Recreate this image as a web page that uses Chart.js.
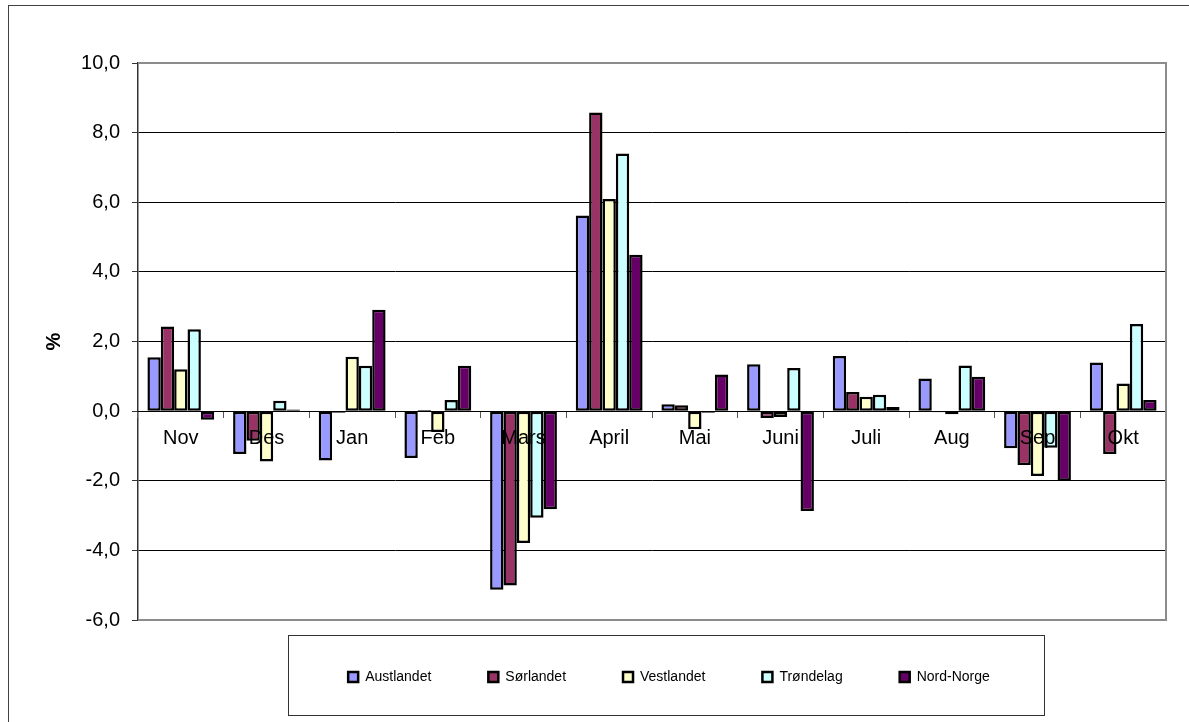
<!DOCTYPE html>
<html>
<head>
<meta charset="utf-8">
<title>Endring per region</title>
<script src="https://cdn.jsdelivr.net/npm/chart.js@4.4.1/dist/chart.umd.min.js"></script>
<style>
    html, body { margin: 0; padding: 0; background: #ffffff; }
    #wrap { width: 1189px; height: 722px; }
</style>
</head>
<body>
<div id="wrap"><canvas id="regionChart" width="1189" height="722"></canvas></div>
<script>
// Months and percent change per region
const months = ['Nov', 'Des', 'Jan', 'Feb', 'Mars', 'April', 'Mai', 'Juni', 'Juli', 'Aug', 'Sep', 'Okt'];
const regions = ['Austlandet', 'Sørlandet', 'Vestlandet', 'Trøndelag', 'Nord-Norge'];

const austlandet = [1.55, -1.23, -1.42, -1.35, -5.13, 5.62, 0.20, 1.35, 1.58, 0.94, -1.07, 1.40];
const sorlandet  = [2.43, -0.85, -0.05, 0.03, -5.01, 8.58, 0.17, -0.20, 0.55, -0.03, -1.55, -1.23];
const vestlandet = [1.20, -1.45, 1.56, -0.60, -3.79, 6.09, -0.52, -0.17, 0.41, -0.09, -1.86, 0.79];
const trondelag  = [2.35, 0.30, 1.30, 0.32, -3.06, 7.40, -0.05, 1.24, 0.47, 1.31, -1.05, 2.50];
const nordNorge  = [-0.25, 0.05, 2.91, 1.30, -2.82, 4.49, 1.05, -2.87, 0.12, 0.99, -2.00, 0.32];

const yTicks = [-6, -4, -2, 0, 2, 4, 6, 8, 10];

const seriesValues = [austlandet, sorlandet, vestlandet, trondelag, nordNorge];
const seriesColors = ['#9999ff', '#993366', '#ffffcc', '#ccffff', '#660066'];

const FONT = '"Liberation Sans", Arial, sans-serif';

// legend is sized by hand so the plot area ends where the reference has it
const legendHeight = {
    id: 'legendHeight',
    beforeInit(chart) {
        const lg = chart.legend;
        if (!lg) return;
        const fit = lg.fit;
        lg.fit = function () {
            fit.call(this);
            this.height = 102;
        };
    },
    afterLayout(chart) {
        // the legend row sits a bit right of the plot centre and a bit higher
        const lg = chart.legend;
        if (!lg) return;
        lg.left += 17;
        lg.right += 17;
        lg.top -= 7;
        lg.bottom -= 7;
    }
};

// frames: outer chart border, plot area border and the box round the legend
const frames = {
    id: 'frames',
    beforeDraw(chart) {
        const ctx = chart.ctx;
        ctx.save();
        ctx.fillStyle = '#ffffff';
        ctx.fillRect(0, 0, chart.width, chart.height);
        ctx.strokeStyle = '#404040';
        ctx.lineWidth = 1;
        ctx.strokeRect(8.5, 5.5, chart.width + 20, chart.height + 20);
        ctx.restore();
    },
    afterDraw(chart) {
        const ctx = chart.ctx;
        const a = chart.chartArea;
        ctx.save();
        ctx.strokeStyle = '#8c8c8c';
        ctx.lineWidth = 2;
        ctx.beginPath();
        ctx.moveTo(a.left, a.top);
        ctx.lineTo(a.right, a.top);
        ctx.lineTo(a.right, a.bottom);
        ctx.lineTo(a.left, a.bottom);
        ctx.stroke();

        const boxes = chart.legend.legendHitBoxes;
        if (boxes && boxes.length) {
            const first = boxes[0];
            const last = boxes[boxes.length - 1];
            const x0 = Math.round(first.left - 60) + 0.5;
            const x1 = Math.round(last.left + last.width + 54) + 0.5;
            const y0 = Math.round(a.bottom + 15) + 0.5;
            const y1 = chart.height - 6.5;
            ctx.strokeStyle = '#333333';
            ctx.lineWidth = 1;
            ctx.strokeRect(x0, y0, x1 - x0, y1 - y0);
        }
        ctx.restore();
    }
};

const ctx = document.getElementById('regionChart');
new Chart(ctx, {
    type: 'bar',
    data: {
        labels: months,
        datasets: regions.map(function (name, i) {
            return {
                label: name,
                data: seriesValues[i],
                backgroundColor: seriesColors[i],
                borderColor: '#000000',
                borderWidth: 2.5,
                borderSkipped: false,
                categoryPercentage: 0.78,
                barPercentage: 1.0
            };
        })
    },
    options: {
        responsive: false,
        animation: false,
        layout: {
            padding: { left: 8, right: 23, top: 63, bottom: 0 }
        },
        plugins: {
            legend: {
                position: 'bottom',
                fullSize: false,
                labels: {
                    boxWidth: 10,
                    boxHeight: 10,
                    padding: 57,
                    color: '#000000',
                    font: { family: FONT, size: 14 }
                }
            },
            tooltip: { enabled: false }
        },
        scales: {
            x: {
                position: { y: 0 },
                grid: {
                    z: 1,
                    drawOnChartArea: false,
                    drawTicks: true,
                    tickLength: 6,
                    tickColor: '#555555',
                    offset: true
                },
                border: { display: true, color: '#000000', width: 1, z: 1 },
                ticks: {
                    z: 1,
                    color: '#000000',
                    padding: 9,
                    maxRotation: 0,
                    font: { family: FONT, size: 20 }
                }
            },
            y: {
                min: -6,
                max: 10,
                afterFit(scale) { scale.width = 130; },
                afterBuildTicks(scale) {
                    scale.ticks = yTicks.map(function (v) { return { value: v }; });
                },
                grid: {
                    color: '#000000',
                    lineWidth: 1,
                    tickLength: 6,
                    tickColor: '#333333'
                },
                border: { display: true, color: '#333333', width: 1.5 },
                ticks: {
                    color: '#000000',
                    padding: 12,
                    font: { family: FONT, size: 20 },
                    callback: function (v) { return v.toFixed(1).replace('.', ','); }
                },
                title: {
                    display: true,
                    text: '%',
                    color: '#000000',
                    padding: { top: 34, bottom: 0 },
                    font: { family: FONT, size: 20, weight: 'bold' }
                }
            }
        }
    },
    plugins: [legendHeight, frames]
});
</script>
</body>
</html>
